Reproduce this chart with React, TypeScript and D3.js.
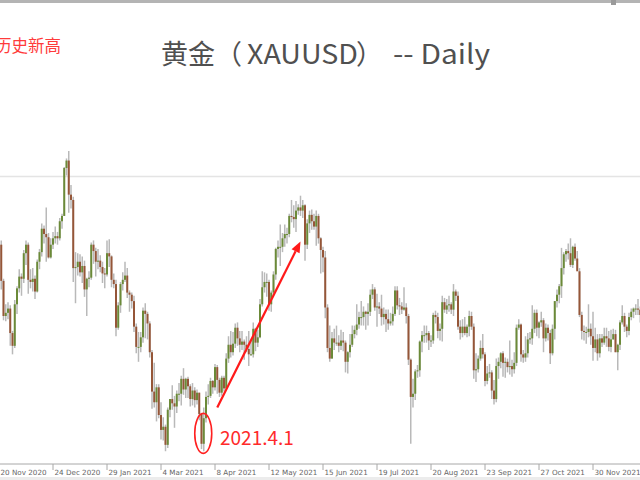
import React from "react";
import * as d3 from "d3";

// Daily XAUUSD candles, 20 Nov 2020 – 29 Dec 2021
const dates = [
  "2020-11-20","2020-11-23","2020-11-24","2020-11-25","2020-11-26","2020-11-27","2020-11-30",
  "2020-12-01","2020-12-02","2020-12-03","2020-12-04","2020-12-07","2020-12-08","2020-12-09","2020-12-10","2020-12-11",
  "2020-12-14","2020-12-15","2020-12-16","2020-12-17","2020-12-18","2020-12-21","2020-12-22","2020-12-23","2020-12-24",
  "2020-12-28","2020-12-29","2020-12-30","2020-12-31",
  "2021-01-04","2021-01-05","2021-01-06","2021-01-07","2021-01-08","2021-01-11","2021-01-12","2021-01-13","2021-01-14","2021-01-15",
  "2021-01-18","2021-01-19","2021-01-20","2021-01-21","2021-01-22","2021-01-25","2021-01-26","2021-01-27","2021-01-28","2021-01-29",
  "2021-02-01","2021-02-02","2021-02-03","2021-02-04","2021-02-05","2021-02-08","2021-02-09","2021-02-10","2021-02-11","2021-02-12",
  "2021-02-15","2021-02-16","2021-02-17","2021-02-18","2021-02-19","2021-02-22","2021-02-23","2021-02-24","2021-02-25","2021-02-26",
  "2021-03-01","2021-03-02","2021-03-03","2021-03-04","2021-03-05","2021-03-08","2021-03-09","2021-03-10","2021-03-11","2021-03-12",
  "2021-03-15","2021-03-16","2021-03-17","2021-03-18","2021-03-19","2021-03-22","2021-03-23","2021-03-24","2021-03-25","2021-03-26",
  "2021-03-29","2021-03-30","2021-03-31","2021-04-01","2021-04-05","2021-04-06","2021-04-07","2021-04-08","2021-04-09",
  "2021-04-12","2021-04-13","2021-04-14","2021-04-15","2021-04-16","2021-04-19","2021-04-20","2021-04-21","2021-04-22","2021-04-23",
  "2021-04-26","2021-04-27","2021-04-28","2021-04-29","2021-04-30","2021-05-03","2021-05-04","2021-05-05","2021-05-06","2021-05-07",
  "2021-05-10","2021-05-11","2021-05-12","2021-05-13","2021-05-14","2021-05-17","2021-05-18","2021-05-19","2021-05-20","2021-05-21",
  "2021-05-24","2021-05-25","2021-05-26","2021-05-27","2021-05-28","2021-05-31","2021-06-01","2021-06-02","2021-06-03","2021-06-04",
  "2021-06-07","2021-06-08","2021-06-09","2021-06-10","2021-06-11","2021-06-14","2021-06-15","2021-06-16","2021-06-17","2021-06-18",
  "2021-06-21","2021-06-22","2021-06-23","2021-06-24","2021-06-25","2021-06-28","2021-06-29","2021-06-30","2021-07-01","2021-07-02",
  "2021-07-05","2021-07-06","2021-07-07","2021-07-08","2021-07-09","2021-07-12","2021-07-13","2021-07-14","2021-07-15","2021-07-16",
  "2021-07-19","2021-07-20","2021-07-21","2021-07-22","2021-07-23","2021-07-26","2021-07-27","2021-07-28","2021-07-29","2021-07-30",
  "2021-08-02","2021-08-03","2021-08-04","2021-08-05","2021-08-06","2021-08-09","2021-08-10","2021-08-11","2021-08-12","2021-08-13",
  "2021-08-16","2021-08-17","2021-08-18","2021-08-19","2021-08-20","2021-08-23","2021-08-24","2021-08-25","2021-08-26","2021-08-27",
  "2021-08-30","2021-08-31","2021-09-01","2021-09-02","2021-09-03","2021-09-06","2021-09-07","2021-09-08","2021-09-09","2021-09-10",
  "2021-09-13","2021-09-14","2021-09-15","2021-09-16","2021-09-17","2021-09-20","2021-09-21","2021-09-22","2021-09-23","2021-09-24",
  "2021-09-27","2021-09-28","2021-09-29","2021-09-30","2021-10-01","2021-10-04","2021-10-05","2021-10-06","2021-10-07","2021-10-08",
  "2021-10-11","2021-10-12","2021-10-13","2021-10-14","2021-10-15","2021-10-18","2021-10-19","2021-10-20","2021-10-21","2021-10-22",
  "2021-10-25","2021-10-26","2021-10-27","2021-10-28","2021-10-29","2021-11-01","2021-11-02","2021-11-03","2021-11-04","2021-11-05",
  "2021-11-08","2021-11-09","2021-11-10","2021-11-11","2021-11-12","2021-11-15","2021-11-16","2021-11-17","2021-11-18","2021-11-19",
  "2021-11-22","2021-11-23","2021-11-24","2021-11-25","2021-11-26","2021-11-29","2021-11-30","2021-12-01","2021-12-02","2021-12-03",
  "2021-12-06","2021-12-07","2021-12-08","2021-12-09","2021-12-10","2021-12-13","2021-12-14","2021-12-15","2021-12-16","2021-12-17",
  "2021-12-20","2021-12-21","2021-12-22","2021-12-23","2021-12-24","2021-12-27","2021-12-28","2021-12-29",
];

const opens = [
  1866,1871,1837,1804,1807,1811,1788,
  1776,1815,1830,1841,1839,1863,1871,1838,1836,
  1839,1827,1855,1864,1886,1881,1878,1859,1871,
  1877,1879,1877,1893,
  1898,1943,1950,1918,1913,1849,1850,1855,1845,1851,
  1829,1839,1840,1871,1865,1855,1856,1850,1844,1843,
  1863,1860,1838,1834,1793,1814,1834,1838,1842,1826,
  1824,1818,1794,1775,1775,1784,1809,1806,1797,1770,
  1733,1723,1737,1711,1697,1700,1683,1716,1726,1722,
  1719,1731,1731,1745,1735,1745,1738,1726,1734,1725,
  1732,1712,1684,1708,1728,1729,1743,1737,1756,
  1744,1732,1746,1736,1764,1777,1770,1778,1793,1783,
  1777,1780,1777,1773,1768,1768,1792,1779,1784,1815,
  1831,1836,1836,1815,1826,1843,1867,1869,1869,1877,
  1881,1881,1898,1897,1895,1903,1906,1903,1908,1871,
  1891,1899,1893,1888,1898,1877,1866,1859,1812,1774,
  1764,1783,1779,1779,1776,1781,1779,1761,1770,1777,
  1787,1791,1796,1803,1803,1808,1806,1808,1824,1829,
  1812,1813,1811,1803,1806,1801,1797,1799,1806,1828,
  1814,1813,1810,1812,1804,1763,1728,1731,1752,1753,
  1780,1786,1786,1788,1781,1781,1805,1803,1790,1792,
  1817,1810,1814,1815,1810,1827,1823,1794,1788,1794,
  1788,1794,1804,1794,1753,1754,1764,1774,1768,1743,
  1750,1751,1734,1726,1757,1761,1769,1760,1761,1756,
  1757,1754,1760,1793,1796,1768,1765,1769,1782,1783,
  1792,1807,1793,1798,1800,1783,1793,1788,1769,1792,
  1818,1824,1832,1849,1862,1865,1863,1852,1869,1858,
  1846,1805,1790,1789,1789,1792,1785,1774,1782,1769,
  1783,1779,1785,1783,1775,1782,1787,1770,1777,1798,
  1804,1794,1790,1803,1808,1811,1811,1810,
];

const highs = [
  1875,1875,1839,1815,1817,1814,1790,
  1819,1832,1848,1844,1866,1875,1873,1848,1849,
  1842,1857,1867,1891,1889,1906,1882,1877,1883,
  1888,1883,1896,1900,
  1944,1952,1959,1927,1916,1864,1863,1862,1860,1856,
  1840,1846,1873,1875,1868,1867,1861,1855,1849,1875,
  1876,1861,1844,1838,1817,1836,1845,1855,1849,1828,
  1826,1823,1797,1789,1789,1812,1816,1808,1799,1772,
  1760,1740,1740,1723,1709,1702,1718,1726,1739,1729,
  1734,1741,1748,1755,1746,1747,1740,1741,1737,1735,
  1732,1713,1718,1733,1740,1746,1744,1759,1758,
  1746,1748,1748,1769,1785,1790,1789,1797,1798,1790,
  1790,1782,1785,1790,1781,1798,1793,1791,1820,1846,
  1845,1844,1838,1828,1846,1868,1875,1890,1882,1890,
  1887,1900,1913,1908,1912,1909,1917,1913,1909,1895,
  1903,1904,1900,1903,1900,1878,1869,1865,1815,1795,
  1789,1792,1795,1786,1791,1789,1781,1771,1787,1795,
  1795,1815,1808,1818,1813,1809,1816,1829,1834,1831,
  1825,1817,1824,1812,1810,1810,1807,1813,1832,1832,
  1821,1817,1831,1816,1806,1764,1745,1754,1758,1781,
  1790,1795,1795,1790,1786,1807,1809,1807,1797,1823,
  1821,1820,1823,1817,1834,1829,1827,1800,1801,1803,
  1796,1809,1808,1797,1769,1767,1781,1787,1770,1757,
  1759,1753,1744,1764,1765,1770,1771,1765,1764,1781,
  1763,1770,1796,1801,1797,1772,1785,1788,1789,1814,
  1810,1810,1799,1808,1802,1797,1796,1791,1796,1818,
  1829,1834,1868,1864,1867,1872,1877,1870,1872,1865,
  1849,1808,1795,1794,1815,1797,1808,1793,1787,1787,
  1787,1793,1793,1790,1791,1792,1791,1778,1800,1814,
  1807,1796,1807,1811,1812,1815,1820,1813,
];

const lows = [
  1859,1829,1800,1799,1801,1776,1768,
  1774,1806,1826,1823,1835,1852,1825,1830,1827,
  1820,1826,1848,1860,1872,1855,1858,1858,1867,
  1872,1871,1875,1886,
  1898,1936,1901,1905,1836,1816,1842,1841,1835,1822,
  1804,1831,1838,1853,1841,1848,1845,1835,1830,1841,
  1850,1831,1830,1785,1791,1807,1828,1836,1821,1808,
  1811,1789,1769,1761,1770,1779,1783,1782,1765,1717,
  1718,1705,1708,1688,1687,1677,1680,1709,1716,1699,
  1713,1724,1720,1730,1727,1727,1719,1720,1718,1721,
  1706,1679,1677,1704,1721,1727,1731,1734,1731,
  1728,1729,1733,1735,1760,1765,1767,1774,1776,1770,
  1772,1763,1770,1757,1767,1765,1771,1775,1783,1813,
  1826,1822,1809,1808,1824,1838,1859,1851,1864,1869,
  1872,1878,1892,1887,1883,1899,1898,1896,1856,1867,
  1882,1885,1885,1870,1872,1844,1845,1802,1770,1761,
  1764,1772,1776,1770,1772,1771,1751,1750,1765,1775,
  1783,1786,1792,1795,1795,1791,1795,1804,1820,1809,
  1794,1806,1795,1796,1789,1791,1795,1795,1804,1810,
  1805,1806,1809,1797,1758,1684,1718,1725,1746,1747,
  1770,1779,1779,1772,1775,1778,1797,1783,1781,1780,
  1807,1806,1808,1806,1804,1818,1791,1782,1784,1786,
  1784,1785,1791,1745,1742,1751,1762,1764,1738,1740,
  1746,1726,1721,1723,1745,1755,1747,1746,1751,1749,
  1747,1750,1757,1791,1761,1760,1761,1765,1778,1777,
  1788,1785,1783,1794,1770,1780,1781,1759,1767,1782,
  1812,1816,1821,1843,1855,1857,1850,1849,1856,1847,
  1803,1782,1781,1778,1784,1777,1762,1770,1762,1765,
  1775,1777,1775,1771,1770,1782,1770,1753,1772,1796,
  1789,1784,1786,1800,1802,1805,1805,1798,
];

const closes = [
  1871,1837,1804,1807,1811,1788,1776,
  1815,1830,1841,1839,1863,1871,1838,1836,1839,
  1827,1855,1864,1886,1881,1878,1859,1871,1877,
  1879,1877,1893,1898,
  1943,1950,1918,1913,1849,1850,1855,1845,1851,1829,
  1839,1840,1871,1865,1855,1856,1850,1844,1843,1863,
  1860,1838,1834,1793,1814,1834,1838,1842,1826,1824,
  1818,1794,1775,1775,1784,1809,1806,1797,1770,1733,
  1723,1737,1711,1697,1700,1683,1716,1726,1722,1719,
  1731,1731,1745,1735,1745,1738,1726,1734,1725,1732,
  1712,1684,1708,1728,1729,1743,1737,1756,1744,
  1732,1746,1736,1764,1777,1770,1778,1793,1783,1777,
  1780,1777,1773,1768,1768,1792,1779,1784,1815,1831,
  1836,1836,1815,1826,1843,1867,1869,1869,1877,1881,
  1881,1898,1897,1895,1903,1906,1903,1908,1871,1891,
  1899,1893,1888,1898,1877,1866,1859,1812,1774,1764,
  1783,1779,1779,1776,1781,1779,1761,1770,1777,1787,
  1791,1796,1803,1803,1808,1806,1808,1824,1829,1812,
  1813,1811,1803,1806,1801,1797,1799,1806,1828,1814,
  1813,1810,1812,1804,1763,1728,1731,1752,1753,1780,
  1786,1786,1788,1781,1781,1805,1803,1790,1792,1817,
  1810,1814,1815,1810,1827,1823,1794,1788,1794,1788,
  1794,1804,1794,1753,1754,1764,1774,1768,1743,1750,
  1751,1734,1726,1757,1761,1769,1760,1761,1756,1757,
  1754,1760,1793,1796,1768,1765,1769,1782,1783,1792,
  1807,1793,1798,1800,1783,1793,1788,1769,1792,1818,
  1824,1832,1849,1862,1865,1863,1852,1869,1858,1846,
  1805,1790,1789,1789,1792,1785,1774,1782,1769,1783,
  1779,1785,1783,1775,1782,1787,1770,1777,1798,1804,
  1794,1790,1803,1808,1811,1811,1810,1805,
];

// Dates that carry a label on the time axis
const tickDates = [
  "2020-11-20","2020-12-24","2021-01-29","2021-03-04","2021-04-08","2021-05-12",
  "2021-06-15","2021-07-19","2021-08-20","2021-09-23","2021-10-27","2021-11-30",
];

// Horizontal price level drawn across the chart
const levelPrice = 1935;

// Annotated candle and the arrow showing the rally that followed
const markedDate = "2021-03-31";
const markedLabel = "2021.4.1";
const arrowFrom = { date: "2021-04-09", price: 1718 };
const arrowTo = { date: "2021-06-01", price: 1874 };

const titleParts = ["黄金（", "XAUUSD", "）", "-- Daily"];
const noteText = "历史新高";

const W = 640;
const H = 480;
const STEP = 2.25;
const AXIS_Y = 464;

export default function App() {
  const parse = d3.timeParse("%Y-%m-%d");
  const fmt = d3.timeFormat("%-d %b %Y");

  const x = d3
    .scaleBand<string>()
    .domain(dates)
    .range([-2.125, -2.125 + dates.length * STEP])
    .padding(0);
  const cx = (d: string) => (x(d) as number) + x.bandwidth() / 2;

  const y = d3.scaleLinear().domain([1665, 2098]).range([AXIS_Y, 3]);

  const bodyW = 2;
  const up = "#6b8a38";
  const down = "#955638";
  const wick = "#b9b9b9";

  const candles = dates.map((d, i) => {
    const o = opens[i];
    const c = closes[i];
    const top = y(Math.max(o, c));
    const bot = y(Math.min(o, c));
    return (
      <g key={d}>
        <line
          x1={cx(d)}
          x2={cx(d)}
          y1={y(highs[i])}
          y2={y(lows[i])}
          stroke={wick}
          strokeWidth={1.5}
        />
        <rect
          x={cx(d) - bodyW / 2}
          y={top}
          width={bodyW}
          height={Math.max(1, bot - top)}
          fill={c >= o ? up : down}
        />
      </g>
    );
  });

  const ax1 = cx(arrowFrom.date);
  const ay1 = y(arrowFrom.price);
  const ax2 = cx(arrowTo.date);
  const ay2 = y(arrowTo.price);
  const ang = Math.atan2(ay2 - ay1, ax2 - ax1);
  const headLen = 11;
  const headHalf = 4.5;
  const hx = ax2 - headLen * Math.cos(ang);
  const hy = ay2 - headLen * Math.sin(ang);
  const px = -Math.sin(ang) * headHalf;
  const py = Math.cos(ang) * headHalf;

  const mIdx = dates.indexOf(markedDate);
  const mTop = y(highs[mIdx]);
  const mBot = y(lows[mIdx]);

  return (
    <svg
      width={W}
      height={H}
      style={{ position: "absolute", left: 0, top: 0, background: "#fff" }}
      fontFamily="'Noto Sans CJK SC', 'Noto Sans', sans-serif"
    >
      <rect x={0} y={0} width={W} height={H} fill="#fff" />
      <rect x={0} y={0} width={W} height={3} fill="#b4b4b4" />
      <rect x={611} y={0} width={5} height={5} fill="#9a9a9a" />

      <line x1={0} x2={W} y1={y(levelPrice)} y2={y(levelPrice)} stroke="#e4e4e4" strokeWidth={1.5} />

      {candles}

      {/* time axis */}
      <line x1={0} x2={W} y1={AXIS_Y} y2={AXIS_Y} stroke="#a8a8a8" strokeWidth={1} />
      {tickDates.map((d) => (
        <g key={d}>
          <line x1={cx(d)} x2={cx(d)} y1={AXIS_Y} y2={AXIS_Y + 6} stroke="#a8a8a8" />
          <text
            x={cx(d) + 1.5}
            y={AXIS_Y + 10.5}
            fontSize={7.2}
            fill="#666"
            fontFamily="'DejaVu Sans', sans-serif"
          >
            {fmt(parse(d) as Date)}
          </text>
        </g>
      ))}
      <rect x={0} y={477} width={W} height={3} fill="#ececec" />

      {/* title */}
      <g fontSize={27} fill="#505050">
        <text x={161} y={64}>{titleParts[0]}</text>
        <text x={247} y={64} textLength={111} lengthAdjust="spacingAndGlyphs">{titleParts[1]}</text>
        <text x={356} y={64}>{titleParts[2]}</text>
        <text x={393} y={64} textLength={97} lengthAdjust="spacingAndGlyphs">{titleParts[3]}</text>
      </g>
      <text x={-5} y={52} fontSize={16.5} fill="#ff3b3b">
        {noteText}
      </text>

      {/* annotation */}
      <ellipse
        cx={cx(markedDate) - 0.5}
        cy={(mTop + mBot) / 2 + 4}
        rx={8.5}
        ry={20}
        fill="none"
        stroke="#ff2020"
        strokeWidth={1.6}
      />
      <text x={220} y={445} fontSize={19} fill="#ff2a2a">
        {markedLabel}
      </text>
      <line x1={ax1} y1={ay1} x2={hx} y2={hy} stroke="#ff1a1a" strokeWidth={2.2} />
      <polygon
        points={`${ax2},${ay2} ${hx + px},${hy + py} ${hx - px},${hy - py}`}
        fill="#ff1a1a"
      />
    </svg>
  );
}
